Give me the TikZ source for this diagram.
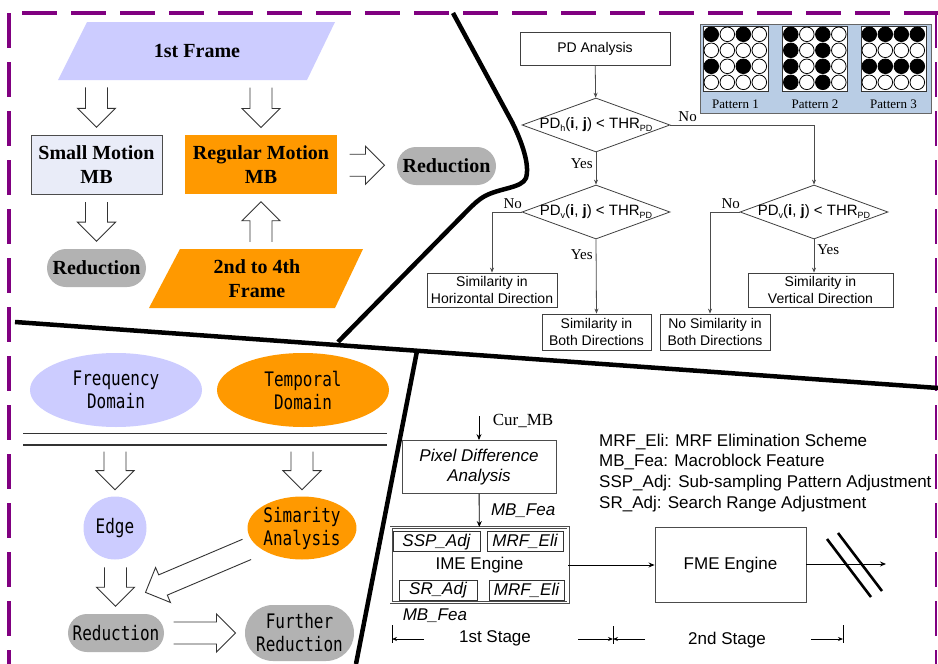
\documentclass[tikz,border=0pt]{standalone}
\usepackage{fontspec}
\setmainfont{Liberation Sans}
\newfontfamily\timesfont{Liberation Serif}
\newfontfamily\gothfont[FakeStretch=0.8]{DejaVu Sans Mono}
\usetikzlibrary{shapes.geometric,shapes.misc,arrows.meta,calc}

\definecolor{lavender}{RGB}{204,204,255}
\definecolor{palelav}{RGB}{233,236,248}
\definecolor{mborange}{RGB}{255,153,0}
\definecolor{pillgray}{RGB}{178,178,178}
\definecolor{panelblue}{RGB}{185,205,229}
\definecolor{framepurple}{RGB}{128,0,128}

\newcommand{\lowsub}[1]{\raisebox{-2.5pt}{\fontsize{9}{9}\selectfont #1}}
% 4x4 dot pattern inside a square node, #2 decides the black dots
\newcommand{\dotgrid}[2]{%
  \foreach \row in {0,...,3}{\foreach \col in {0,...,3}{%
    \pgfmathtruncatemacro{\on}{#2}%
    \ifnum\on=1 \def\dotfill{black}\else\def\dotfill{white}\fi
    \filldraw[fill=\dotfill, draw=black, line width=0.8pt]
      ($(#1.north west)+(8.5+16*\col,8.5+16*\row)$) circle[radius=7.3];
  }}}

\tikzset{
  mincho/.style={font=\timesfont\bfseries\fontsize{20}{24}\selectfont, align=center},
  gothic/.style={font=\gothfont\fontsize{20}{23}\selectfont, align=center},
  pill/.style={rounded rectangle, fill=pillgray, inner sep=0pt},
  flowbox/.style={draw=black!75, line width=0.8pt, inner sep=0pt, align=center,
    font=\fontsize{14}{17}\selectfont},
  decision/.style={diamond, draw=black!75, line width=0.8pt, inner sep=0pt, aspect=2.74,
    minimum width=148pt, minimum height=54pt, font=\fontsize{15}{17}\selectfont},
  yesno/.style={font=\timesfont\fontsize{15}{17}\selectfont, inner sep=3pt},
  flowarrow/.style={draw=black!70, line width=0.8pt, -{Stealth[length=5pt,width=4pt]}},
  bfarrow/.style={draw=black, line width=0.9pt, -{Stealth[length=6pt,width=5pt]}},
  dimarrow/.style={draw=black, line width=0.8pt, -{Stealth[length=5pt,width=4pt]}},
  patbox/.style={draw=black!80, fill=white, minimum size=65pt, inner sep=0pt},
  patlabel/.style={font=\timesfont\fontsize{13}{15}\selectfont},
  engine/.style={draw=black!70, line width=0.9pt, inner sep=0pt, font=\fontsize{17}{20}\selectfont},
  subbox/.style={draw=black!80, line width=0.8pt, inner sep=0pt, minimum height=20pt,
    font=\itshape\fontsize{17}{20}\selectfont},
  note/.style={font=\fontsize{17}{20}\selectfont},
  blockline/.style={draw=black!80, line width=0.9pt},
  divider/.style={line width=4.5pt, line join=round},
  purpleframe/.style={draw=framepurple, line width=4pt, dash pattern=on 35pt off 14pt},
  pics/hollowarrow/.style={code={
    \draw[blockline] (-#1/2,-11) -- (#1/2-19,-11) -- (#1/2-19,-19) -- (#1/2,0)
      -- (#1/2-19,19) -- (#1/2-19,11) -- (-#1/2,11);}}
}

\begin{document}
\begin{tikzpicture}[x=1pt,y=-1pt]
  \fill[white] (0,0) rectangle (938,664);
  \useasboundingbox (0,0) rectangle (938,664);

  % purple dashed frame
  \draw[purpleframe] (9,13) -- (9,664);
  \draw[purpleframe] (22,13) -- (938,13);
  \draw[purpleframe, line width=2pt] (936,13) -- (936,664);

  % black dividing lines
  \draw[divider] (453,13) -- (512,122) .. controls (522,142) and (530,165) .. (526,178)
    .. controls (522,188) and (500,188) .. (485,196)
    .. controls (478,200) and (474,204) .. (468,210) -- (338,342);
  \draw[divider] (15,322) -- (938,388);
  \draw[divider] (417,351) -- (356,664);

  %%% upper left: frames and motion
  \fill[lavender] (87,22) -- (335,22) -- (307,80) -- (58,80) -- cycle;
  \node[mincho, minimum height=58pt] (frame1) at (197,51) {1st Frame};
  \node[mincho, draw=black!70, line width=1pt, fill=palelav, minimum width=131pt,
    minimum height=59pt, inner sep=0pt] (small) at (96.5,164.5) {Small Motion\\MB};
  \node[mincho, fill=mborange, minimum width=152pt, minimum height=59pt,
    inner sep=0pt] (regular) at (261,164.5) {Regular Motion\\MB};
  \node[mincho, pill, minimum width=99pt, minimum height=38pt] (redA) at (446.5,166) {Reduction};
  \node[mincho, pill, minimum width=99pt, minimum height=38pt] (redB) at (96.5,268) {Reduction};
  \fill[mborange] (180,249) -- (363,249) -- (335,308) -- (149,308) -- cycle;
  \node[mincho, minimum height=59pt] (frame2) at (257,279) {2nd to 4th\\Frame};

  \pic[rotate=-90] at ($(frame1.south -| small.north)!.5!(small.north)$) {hollowarrow=40};
  \pic[rotate=-90] at ($(frame1.south -| regular.north)!.5!(regular.north)$) {hollowarrow=40};
  \pic[rotate=-90] at ($(small.south)!.5!(redB.north)$) {hollowarrow=39};
  \pic[rotate=90] at ($(frame2.north -| regular.south)!.5!(regular.south)$) {hollowarrow=40};
  \pic at ($(regular.east)!.5!(redA.west)$) {hollowarrow=35};

  %%% upper right: PD flow chart
  \node[flowbox, minimum width=150pt, minimum height=33pt] (pd) at (595,48.5) {PD Analysis};
  \node[decision] (d1) at (596,125)
    {\makebox[0pt]{PD\lowsub{h}(\textbf{i}, \textbf{j}) < THR\lowsub{PD}}};
  \node[decision] (d2a) at (596,212)
    {\makebox[0pt]{PD\lowsub{v}(\textbf{i}, \textbf{j}) < THR\lowsub{PD}}};
  \node[decision] (d2b) at (814,212)
    {\makebox[0pt]{PD\lowsub{v}(\textbf{i}, \textbf{j}) < THR\lowsub{PD}}};
  \node[flowbox, minimum width=130pt, minimum height=34pt] (horiz) at (492,290) {Similarity in\\Horizontal Direction};
  \node[flowbox, minimum width=109pt, minimum height=36pt] (both) at (596.5,332) {Similarity in\\Both Directions};
  \node[flowbox, minimum width=110pt, minimum height=36pt] (nosim) at (715,332) {No Similarity in\\Both Directions};
  \node[flowbox, minimum width=145pt, minimum height=34pt] (vert) at (820.5,290) {Similarity in\\Vertical Direction};

  \draw[flowarrow] (pd) -- (d1);
  \draw[flowarrow] (d1.east) -| node[yesno, pos=0.06, above] {No} (d2b.north);
  \draw[flowarrow] (d1) -- node[yesno, pos=0.35, left] {Yes} (d2a);
  \draw[flowarrow] (d2a.west) -| node[yesno, pos=0.15, above] {No} (horiz.north);
  \draw[flowarrow] (d2a.south) -- node[yesno, pos=0.2, left] {Yes} (both.north);
  \draw[flowarrow] (d2b.west) -| node[yesno, pos=0.15, above] {No} ([xshift=-5pt]nosim.north);
  \draw[flowarrow] (d2b.south) -- node[yesno, pos=0.3, right] {Yes} (d2b.south |- vert.north);

  % sub-sampling patterns
  \node[draw=black!60, fill=panelblue, minimum width=231pt, minimum height=89pt,
    inner sep=0pt] (panel) at (815.5,68.5) {};
  \node[patbox] (pat1) at (735.5,58.5) {};
  \node[patbox] (pat2) at (815,58.5) {};
  \node[patbox] (pat3) at (893.5,58.5) {};
  \dotgrid{pat1}{(mod(\row,2)==0)*(mod(\col,2)==0)}
  \dotgrid{pat2}{mod(\col,2)==0}
  \dotgrid{pat3}{mod(\row,2)==0}
  \node[patlabel] (lab1) at ($(pat1.south)+(0,13)$) {Pattern 1};
  \node[patlabel] (lab2) at ($(pat2.south)+(0,13)$) {Pattern 2};
  \node[patlabel] (lab3) at ($(pat3.south)+(0,13)$) {Pattern 3};

  %%% lower left: domains
  \node[gothic, ellipse, fill=lavender, minimum width=172pt, minimum height=74pt,
    inner sep=0pt] (freq) at (116,390) {Frequency\\Domain};
  \node[gothic, ellipse, fill=mborange, minimum width=172pt, minimum height=74pt,
    inner sep=0pt] (temporal) at (303,390) {Temporal\\Domain};
  \draw[black!80, line width=1pt] (23,433) -- (387,433);
  \draw[black!80, line width=1.2pt] (23,445) -- (387,445);
  \coordinate (rule) at (23,445);
  \node[gothic, circle, fill=lavender, minimum size=63pt, inner sep=0pt] (edge) at (115,528) {Edge};
  \node[gothic, ellipse, fill=mborange, minimum width=108pt, minimum height=63pt,
    inner sep=0pt] (simar) at (302,528) {Simarity\\Analysis};
  \node[gothic, pill, minimum width=96pt, minimum height=38pt] (redC) at (116,633) {Reduction};
  \node[gothic, pill, minimum width=109pt, minimum height=56pt] (further) at (299.5,633) {Further\\Reduction};

  \pic[rotate=-90] at ($(rule -| edge.north)!.5!(edge.north)$) {hollowarrow=38};
  \pic[rotate=-90] at ($(rule -| simar.north)!.5!(simar.north)$) {hollowarrow=38};
  \pic[rotate=-90] at ($(edge.south)!.5!(redC.north)$) {hollowarrow=39};
  \pic at ($(redC.east)!.5!(further.west)$) {hollowarrow=62};
  \pic[rotate=203] at ($(simar.west)!.5!(redC.north east)$) {hollowarrow=110};

  %%% lower right: engines
  \node[engine, font=\itshape\fontsize{17}{20}\selectfont, align=center, minimum width=154pt,
    minimum height=53pt] (pda) at (479,467) {Pixel Difference\\Analysis};
  \draw[bfarrow] ($(pda.north)+(0,-24)$) -- (pda.north);
  \node[font=\timesfont\fontsize{17}{20}\selectfont] (curmb) at (523,421) {Cur\_MB};
  \node[engine, double=white, double distance=1.2pt, minimum width=177pt,
    minimum height=75pt] (ime) at (479.5,565) {IME Engine};
  \node[subbox, minimum width=87pt] (ssp) at (436.5,541.7) {SSP\_Adj};
  \node[subbox, minimum width=76pt] (mrfA) at (525,541.7) {MRF\_Eli};
  \node[subbox, minimum width=78pt] (sradj) at (438,590) {SR\_Adj};
  \node[subbox, minimum width=75pt] (mrfB) at (526.5,590) {MRF\_Eli};
  \draw[bfarrow] (pda) -- node[right=8pt, font=\itshape\fontsize{17}{20}\selectfont] {MB\_Fea} (ime);
  \node[anchor=north west, inner sep=0pt, font=\itshape\fontsize{17}{20}\selectfont]
    (feaB) at ($(ime.south west)+(12,6)$) {MB\_Fea};
  \node[engine, minimum width=151pt, minimum height=75pt] (fme) at (730.5,565) {FME Engine};
  \draw[bfarrow] (ime) -- (fme);
  \coordinate (out) at (886,564);
  \draw[bfarrow] (fme.east |- out) -- (out);
  \draw[line width=2.6pt] (827,539) -- (871,597);
  \draw[line width=2.6pt] (838,533) -- (882,591);

  \node[note, anchor=north west, align=left, inner sep=0pt,
    font=\fontsize{17}{20.8}\selectfont] (legend) at (599,433.5)
    {MRF\_Eli: MRF Elimination Scheme\\MB\_Fea: Macroblock Feature\\
     SSP\_Adj: Sub-sampling Pattern Adjustment\\SR\_Adj: Search Range Adjustment};

  % stage extents
  \coordinate (b1) at (392,639);
  \coordinate (b2) at (613,639);
  \coordinate (b3) at (843,639);
  \draw[line width=0.8pt] ($(b1)+(0,-14)$) -- ($(b1)+(0,4)$);
  \draw[line width=0.8pt] ($(b2)+(0,-13)$) -- ($(b2)+(0,5)$);
  \draw[line width=0.8pt] ($(b3)+(0,-14)$) -- ($(b3)+(0,4)$);
  \node[note] (stage1) at (495,638) {1st Stage};
  \node[note] (stage2) at (727,640) {2nd Stage};
  \draw[dimarrow] ($(b1)+(32,0)$) -- (b1);
  \draw[dimarrow] ($(b2)+(-35,0)$) -- (b2);
  \draw[dimarrow] ($(b2)+(32,0)$) -- (b2);
  \draw[dimarrow] ($(b3)+(-32,0)$) -- (b3);
\end{tikzpicture}
\end{document}
